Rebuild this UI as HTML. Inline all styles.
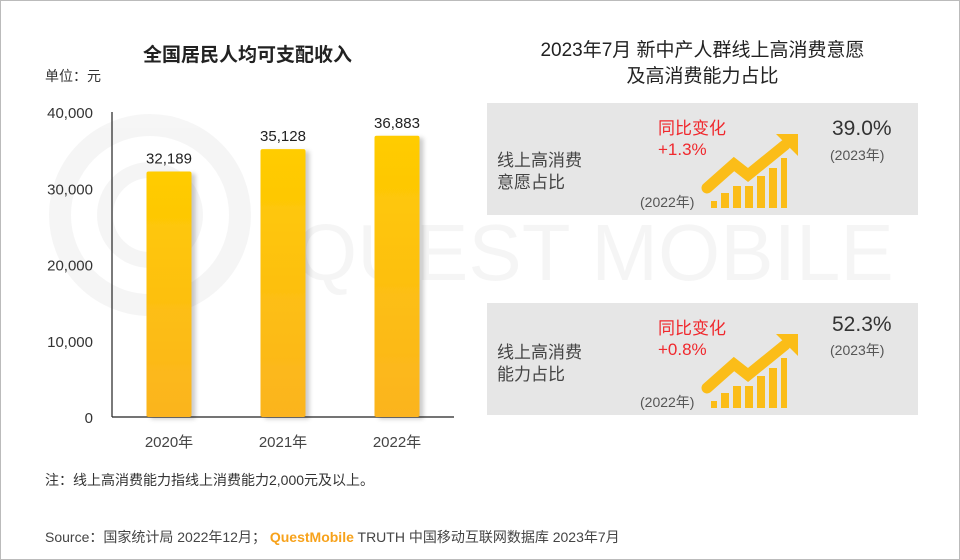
<!DOCTYPE html>
<html><head><meta charset="utf-8"><style>
body{margin:0;width:960px;height:560px;background:#fff;font-family:"Liberation Sans","Noto Sans CJK SC",sans-serif;overflow:hidden}
#frame{position:absolute;left:0;top:0;width:958px;height:558px;border:1px solid #bbb}
.t{position:absolute;white-space:nowrap;color:#333}
</style></head><body>
<div id="frame"></div>
<svg id="chart" width="960" height="560" style="position:absolute;left:0;top:0">
<defs>
<linearGradient id="bg" x1="0" y1="0" x2="0" y2="1"><stop offset="0" stop-color="#ffcc00"/><stop offset="1" stop-color="#fbb420"/></linearGradient>
<filter id="sh" x="-20%" y="-5%" width="150%" height="110%"><feDropShadow dx="4" dy="2" stdDeviation="2" flood-color="#000" flood-opacity="0.2"/></filter>
</defs>
<g opacity="0.035" fill="none" stroke="#000">
<circle cx="150" cy="215" r="90" stroke-width="22"/>
<circle cx="150" cy="215" r="45" stroke-width="16"/>
<text x="295" y="280" font-size="80" fill="#000" stroke="none" font-family="Liberation Sans">QUEST MOBILE</text>
</g>
<g id="axes"></g><g id="bars"></g>
<g>
<rect x="487" y="103" width="431" height="112" fill="#e6e6e6"/>
<rect x="487" y="303" width="431" height="112" fill="#e6e6e6"/>
<g id="arrow1">
<g fill="#fbbd18">
<rect x="711" y="201" width="6" height="7"/><rect x="721" y="193" width="8" height="15"/><rect x="733" y="186" width="8" height="22"/><rect x="745" y="186" width="8" height="22"/><rect x="757" y="176" width="8" height="32"/><rect x="769" y="168" width="8" height="40"/><rect x="781" y="158" width="6" height="50"/>
<polygon points="776,134 798,134 798,156"/>
</g>
<polyline points="707,188 734,164 748,175 785,145" fill="none" stroke="#fbbd18" stroke-width="11" stroke-linecap="round" stroke-linejoin="miter"/>
</g>
<use href="#arrow1" y="200"/>
</g>
</svg>
<div class="t" style="left:143px;top:40px;font-size:19px;font-weight:bold;color:#222">全国居民人均可支配收入</div>
<div class="t" style="left:45px;top:66px;font-size:14px">单位：元</div>
<div class="t" style="left:487px;top:38px;width:431px;text-align:center;font-size:19px;line-height:26px;color:#222;white-space:normal">2023年7月 新中产人群线上高消费意愿<br>及高消费能力占比</div>
<div class="t" style="left:497px;top:150px;font-size:17px;line-height:22px;color:#444">线上高消费<br>意愿占比</div>
<div class="t" style="left:658px;top:118px;font-size:17px;line-height:21px;color:#f0282d">同比变化<br>+1.3%</div>
<div class="t" style="left:640px;top:192px;font-size:14px;color:#555">(2022年)</div>
<div class="t" style="left:832px;top:117px;font-size:21px;color:#333">39.0%</div>
<div class="t" style="left:830px;top:145px;font-size:14px;color:#555">(2023年)</div>
<div class="t" style="left:497px;top:342px;font-size:17px;line-height:22px;color:#444">线上高消费<br>能力占比</div>
<div class="t" style="left:658px;top:318px;font-size:17px;line-height:21px;color:#f0282d">同比变化<br>+0.8%</div>
<div class="t" style="left:640px;top:392px;font-size:14px;color:#555">(2022年)</div>
<div class="t" style="left:832px;top:313px;font-size:21px;color:#333">52.3%</div>
<div class="t" style="left:830px;top:340px;font-size:14px;color:#555">(2023年)</div>
<div class="t" style="left:45px;top:470px;font-size:14px">注：线上高消费能力指线上消费能力2,000元及以上。</div>
<div class="t" style="left:45px;top:527px;font-size:14px;color:#444">Source：国家统计局 2022年12月； <span style="color:#f7a21b;font-weight:bold">QuestMobile</span> TRUTH 中国移动互联网数据库 2023年7月</div>
<script>
const categories=["2020年","2021年","2022年"];
const values=[32189,35128,36883];
const valueLabels=["32,189","35,128","36,883"];
const ticks=[0,10000,20000,30000,40000];
const tickLabels=["0","10,000","20,000","30,000","40,000"];
const NS="http://www.w3.org/2000/svg";
const x0=112,x1=454,y0=417,y1=112,ymax=40000;
const y=v=>y0-(v/ymax)*(y0-y1);
const bw=(x1-x0)/categories.length;
const xc=i=>x0+bw*(i+0.5);
function mk(tag,at,parent,txt){const e=document.createElementNS(NS,tag);for(const k in at)e.setAttribute(k,at[k]);if(txt!==undefined)e.textContent=txt;parent.appendChild(e);return e;}
const ax=document.getElementById('axes'),bars=document.getElementById('bars');
let l=mk('line',{x1:x0,y1:y1,x2:x0,y2:y0,stroke:'#222','stroke-width':1.2},ax);


l=mk('line',{x1:x0,y1:y0,x2:x1,y2:y0,stroke:'#222','stroke-width':1.2},ax);


ticks.forEach((t,i)=>{const e=mk('text',{x:93,y:y(t)+6,'text-anchor':'end','font-size':15,fill:'#333','font-family':'Liberation Sans'},ax,tickLabels[i]);

});
categories.forEach((c,i)=>{
const r=mk('rect',{x:xc(i)-22.5,y:y(values[i]),width:45,height:y0-y(values[i]),fill:'url(#bg)',rx:2,filter:'url(#sh)'},bars);


const v=mk('text',{x:xc(i),y:y(values[i])-8,'text-anchor':'middle','font-size':15,fill:'#222','font-family':'Liberation Sans'},bars,valueLabels[i]);


const cl=mk('text',{x:xc(i),y:447,'text-anchor':'middle','font-size':15,fill:'#444','font-family':'Liberation Sans, Noto Sans CJK SC'},bars,c);


});
</script>
</body></html>
